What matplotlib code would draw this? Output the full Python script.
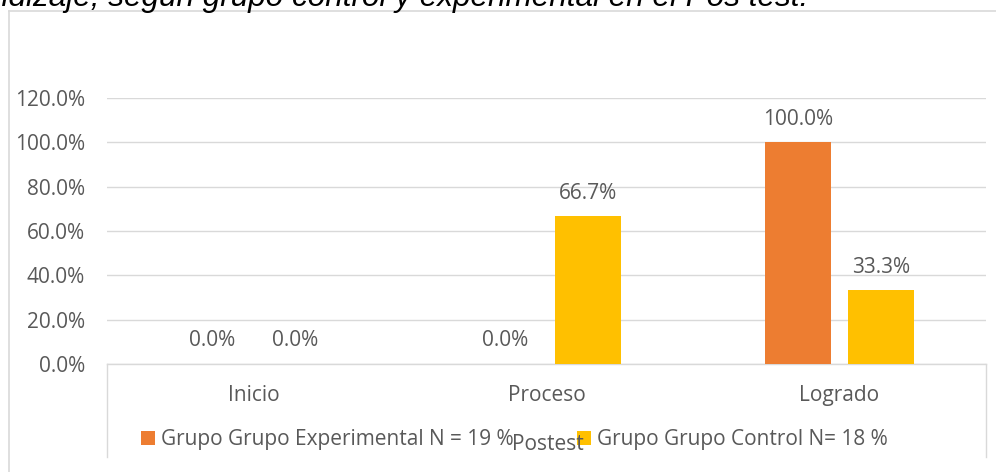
import numpy as np
import matplotlib; matplotlib.use("Agg")
import matplotlib.pyplot as plt
from matplotlib.lines import Line2D
from matplotlib.ticker import PercentFormatter

plt.rcParams["font.family"] = ["Open Sans", "DejaVu Sans"]

categorias = ["Inicio", "Proceso", "Logrado"]
experimental = [0.0, 0.0, 1.0]
control = [0.0, 0.667, 0.333]
series = ["Grupo Grupo Experimental N = 19 %", "Grupo Grupo Control N= 18 %"]
titulo = "aprendizaje, según grupo control y experimental en el Pos test."

NARANJA = "#ED7D31"; AMARILLO = "#FFC000"; TXT = "#595959"; GRID = "#D9D9D9"
W, H = 996, 472
FS = 15

fig = plt.figure(figsize=(W/100, H/100), dpi=100)
fig.patch.set_facecolor("white")
ax = fig.add_axes([107/W, 1-364/H, 879/W, 266/H])

x = np.arange(len(categorias))
off, bw = 0.141, 0.224
b1 = ax.bar(x-off, experimental, bw, color=NARANJA, label=series[0], zorder=3)
b2 = ax.bar(x+off, control, bw, color=AMARILLO, label=series[1], zorder=3)
for b in (b1, b2):
    ax.bar_label(b, fmt="{:.1%}", padding=9, fontsize=FS, color=TXT)

ax.set_xlim(-0.5, 2.5); ax.set_ylim(0, 1.2)
ax.set_yticks(np.arange(0, 1.21, 0.2))
ax.yaxis.set_major_formatter(PercentFormatter(xmax=1, decimals=1))
ax.set_xticks(x); ax.set_xticklabels(categorias)
ax.tick_params(axis="y", length=0, pad=16, labelsize=FS, labelcolor=TXT)
ax.tick_params(axis="x", length=0, pad=15, labelsize=FS, labelcolor=TXT)
ax.grid(axis="y", color=GRID, lw=1.0, zorder=0)
for s in ["top", "right", "left"]:
    ax.spines[s].set_visible(False)
ax.spines["bottom"].set_color(GRID); ax.spines["bottom"].set_linewidth(1.0)

# caja del eje de categorías
for xa in (0, 1):
    ax.plot([xa, xa], [0, -(457-364)/266], transform=ax.transAxes,
            color=GRID, lw=1.0, clip_on=False)

leg = ax.legend(ncol=2, loc="center left", bbox_to_anchor=(141/W, 1-440/H),
                bbox_transform=fig.transFigure, frameon=False, fontsize=FS,
                handlelength=0.65, handleheight=0.65, handletextpad=0.3,
                columnspacing=3.05, borderpad=0, borderaxespad=0)
for t in leg.get_texts(): t.set_color(TXT)
fig.text(512/W, 1-444/H, "Postest", fontsize=FS, color=TXT, va="center", ha="left")

# borde exterior del gráfico
fig.add_artist(Line2D([9/W, 1], [1-11/H, 1-11/H], color=GRID, lw=1.2, transform=fig.transFigure))
fig.add_artist(Line2D([9/W, 9/W], [0, 1-11/H], color=GRID, lw=1.2, transform=fig.transFigure))

fig.text(808/W, 1-6/H, titulo, fontsize=22.7, style="italic", color="black",
         family=["Liberation Sans", "DejaVu Sans"], ha="right", va="baseline")

fig.savefig("out.png", dpi=100, facecolor="white")
